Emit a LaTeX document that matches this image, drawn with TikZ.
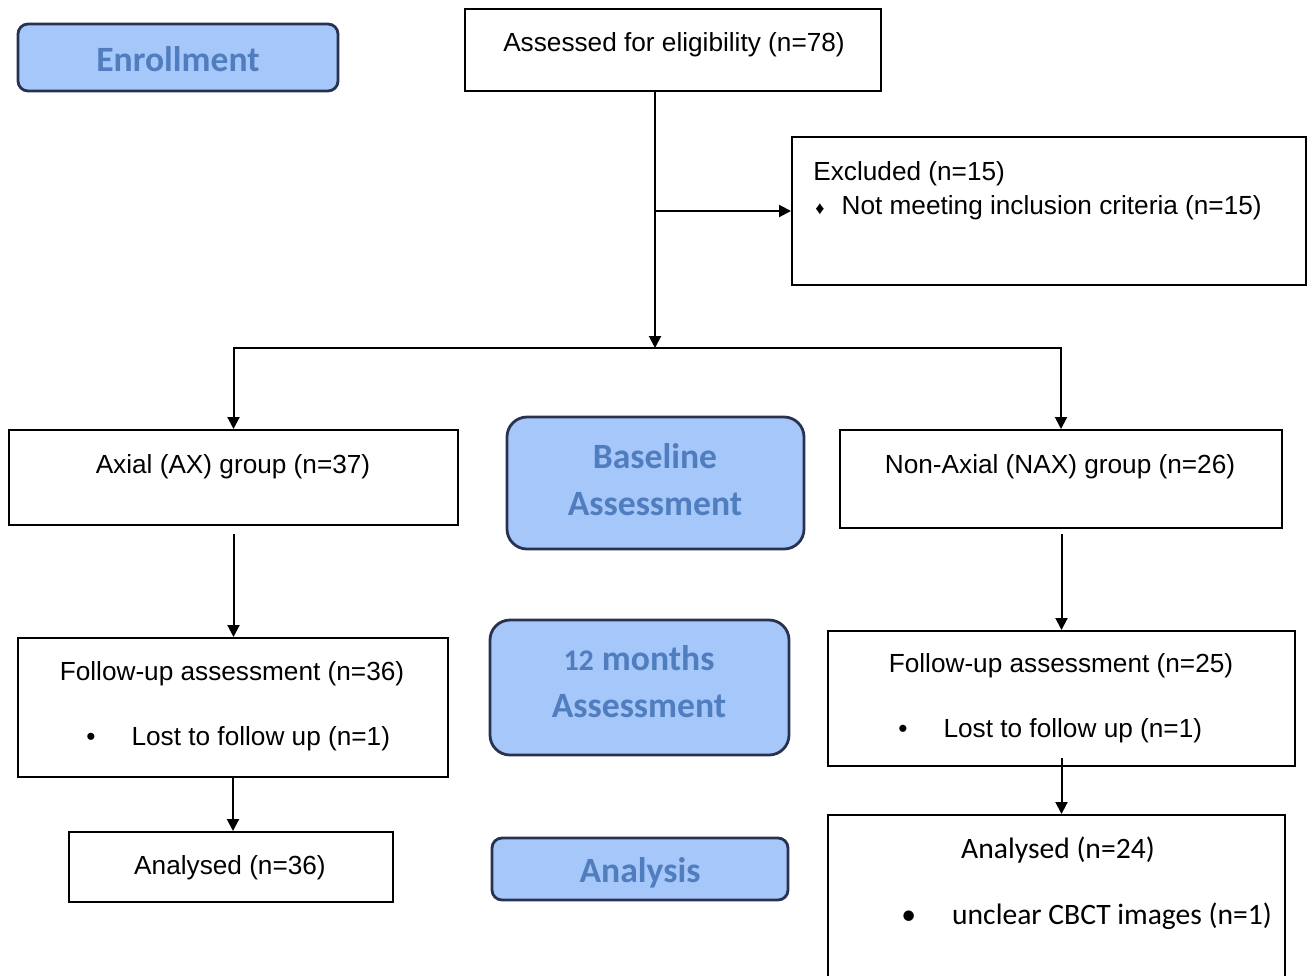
\documentclass[tikz,border=0pt]{standalone}
\usepackage{fontspec}
\setmainfont{Liberation Sans}
\newfontfamily\calibri{Carlito}
\usetikzlibrary{arrows.meta,fit,positioning}
\definecolor{HeadFill}{RGB}{166,199,250}
\definecolor{HeadText}{RGB}{79,125,189}
\definecolor{HeadEdge}{RGB}{40,50,80}

\begin{document}
\begin{tikzpicture}[x=0.5pt,y=-0.5pt,>={Triangle[length=6pt,width=6pt]},
  box/.style={draw,line width=1pt,inner sep=0pt},
  head/.style={draw=HeadEdge,fill=HeadFill,line width=1.4pt,inner sep=0pt,rounded corners=#1},
  head/.default=5pt,
  headtxt/.style={font=\calibri\bfseries\fontsize{17.8}{23.5}\selectfont,text=HeadText,align=center},
  txt/.style={font=\fontsize{13.1}{15}\selectfont,inner sep=0pt},
  ctxt/.style={font=\calibri\fontsize{14.8}{17}\selectfont,inner sep=0pt},
  flow/.style={->,line width=1pt}]
  \useasboundingbox (0,0) rectangle (1309,975);
  \begin{scope}
  \clip (0,0) rectangle (1309,975);

  % stage headers
  \node[head,fit={(18,24) (338,91)}] (enroll) {};
  \node[headtxt] (enrolltxt) at (178,59) {Enrollment};
  \node[head=10pt,fit={(507,417) (804,549)}] (base) {};
  \node[headtxt] (basetxt) at (655,480) {Baseline\\Assessment};
  \node[head=10pt,fit={(490,620) (789,755)}] (month) {};
  \node[headtxt] (monthtxt) at (639,682) {{\fontsize{15}{15}\selectfont 12} months\\Assessment};
  \node[head,fit={(492,838) (788,900)}] (analysis) {};
  \node[headtxt] (analysistxt) at (640,873) {Analysis};

  % boxes
  \node[box,fit={(465,9) (881,91)}] (assess) {};
  \node[txt] (assesstxt) at (674,45) {Assessed for eligibility (n=78)};
  \node[box,fit={(792,137) (1306,285)}] (excl) {};
  \node[txt,anchor=west] (excltxt) at (813,174) {Excluded (n=15)};
  \node[txt,anchor=west] (exclitem) at (815,208) {{\fontsize{9}{9}\selectfont ♦}\hspace{8.5pt}Not meeting inclusion criteria (n=15)};

  \node[box,fit={(9,430) (458,525)}] (axial) {};
  \node[txt] (axialtxt) at (233,467) {Axial (AX) group (n=37)};
  \node[box,fit={(840,430) (1282,528)}] (nax) {};
  \node[txt] (naxtxt) at (1060,467) {Non-Axial (NAX) group (n=26)};

  \node[box,fit={(18,638) (448,777)}] (fuL) {};
  \node[txt] (fuLtxt) at (232,674) {Follow-up assessment (n=36)};
  \node[txt,anchor=west] (fuLitem) at (86,739) {•\hspace{18pt}Lost to follow up (n=1)};
  \node[box,fit={(828,631) (1295,766)}] (fuR) {};
  \node[txt] (fuRtxt) at (1061,666) {Follow-up assessment (n=25)};
  \node[txt,anchor=west] (fuRitem) at (898,731) {•\hspace{18pt}Lost to follow up (n=1)};

  \node[box,fit={(69,832) (393,902)}] (anL) {};
  \node[txt] (anLtxt) at (230,868) {Analysed (n=36)};
  \node[box,fit={(828,815) (1285,990)}] (anR) {};
  \node[ctxt] (anRtxt) at (1058,850) {Analysed (n=24)};
  \node[ctxt,anchor=west] (anRitem) at (901,916) {•\hspace{18pt}unclear CBCT images (n=1)};
  \end{scope}

  % connectors
  \coordinate (split) at (655,348);
  \coordinate (tee) at (655,211);
  \draw[flow] (assess.south -| split) -- (split);
  \draw[flow] (tee) -- (excl.west |- tee);
  \draw[flow] (split) -| (axial.north);
  \draw[flow] (split) -| (nax.north);
  \draw[flow,shorten <=4pt] (axial.south) -- (axial.south |- fuL.north);
  \draw[flow,shorten <=2.5pt] (fuR.north |- nax.south) -- (fuR.north);
  \draw[flow] (fuL.south) -- (fuL.south |- anL.north);
  \draw[flow,shorten <=-4.5pt] (fuR.south) -- (fuR.south |- anR.north);
\end{tikzpicture}
\end{document}
